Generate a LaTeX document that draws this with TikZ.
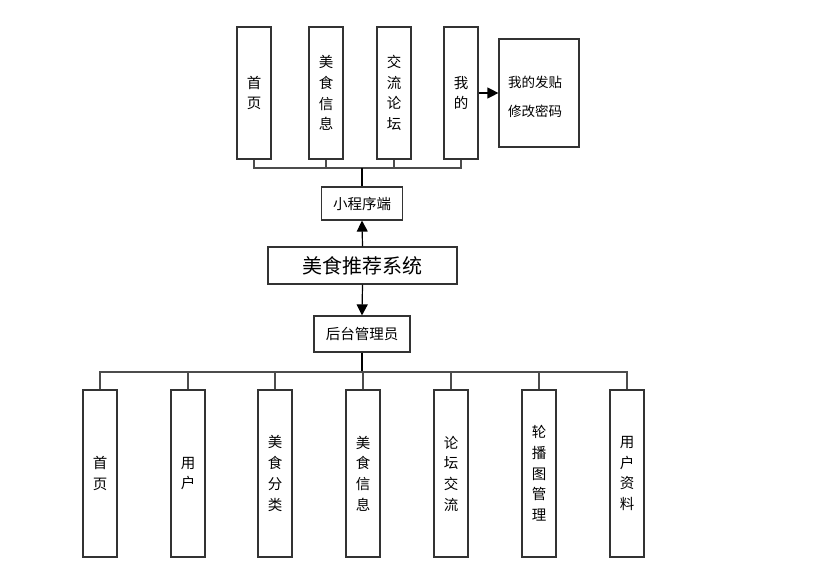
\documentclass[tikz,border=0pt]{standalone}
\usepackage{fontspec}
\setmainfont{Noto Sans CJK SC}
\usetikzlibrary{arrows.meta}
\begin{document}
\begin{tikzpicture}[x=1pt,y=-1pt,
  box/.style={draw=black!80, line width=1.2pt, fill=white, inner sep=0pt, align=center, font=\fontsize{14.5}{20.7}\selectfont},
  vbox/.style={box, minimum width=34pt},
  link/.style={draw=black!70, line width=1.2pt},
  arr/.style={draw=black, line width=1.2pt, -{Triangle[length=11pt,width=11pt]}}]
\useasboundingbox (0,0) rectangle (822,573);
% top branch
\node[vbox, minimum height=132pt] (t1) at (254,93) {首\\页};
\node[vbox, minimum height=132pt] (t2) at (326,93) {美\\食\\信\\息};
\node[vbox, minimum height=132pt] (t3) at (394,93) {交\\流\\论\\坛};
\node[vbox, minimum height=132pt] (t4) at (461,93) {我\\的};
\node[box, minimum width=80pt, minimum height=108pt,
  label={[inner sep=0pt, align=left, font=\fontsize{13.5}{29}\selectfont, xshift=-4pt, yshift=-4pt]center:我的发贴\\修改密码}] (t5) at (539,93) {};
\node[box, minimum width=81pt, minimum height=33pt] (app) at (362,203.5) {小程序端};
\node[box, minimum width=189pt, minimum height=37pt, font=\fontsize{20}{22}\selectfont] (sys) at (362.5,265.5) {美食推荐系统};
\node[box, minimum width=96pt, minimum height=36pt] (adm) at (362,334) {后台管理员};
\coordinate (tb) at (362,168);
\coordinate (bb) at (362,372);
\draw[link] (t1.south) -- (t1.south |- tb) -- (t4.south |- tb) -- (t4.south);
\draw[link] (t2.south) -- (t2.south |- tb);
\draw[link] (t3.south) -- (t3.south |- tb);
\draw[link, draw=black] (tb) -- (app.north);
\draw[arr] (t4.east) -- (t5.west);
\draw[arr] (sys.north) -- (app.south);
\draw[arr] (sys.south) -- (adm.north);
% bottom branch
\node[vbox, minimum height=167pt] (b1) at (100,473.5) {首\\页};
\node[vbox, minimum height=167pt] (b2) at (188,473.5) {用\\户};
\node[vbox, minimum height=167pt] (b3) at (275,473.5) {美\\食\\分\\类};
\node[vbox, minimum height=167pt] (b4) at (363,473.5) {美\\食\\信\\息};
\node[vbox, minimum height=167pt] (b5) at (451,473.5) {论\\坛\\交\\流};
\node[vbox, minimum height=167pt] (b6) at (539,473.5) {轮\\播\\图\\管\\理};
\node[vbox, minimum height=167pt] (b7) at (627,473.5) {用\\户\\资\\料};
\draw[link, draw=black] (adm.south) -- (bb);
\draw[link] (b1.north) -- (b1.north |- bb) -- (b7.north |- bb) -- (b7.north);
\foreach \n in {b2,b3,b4,b5,b6} \draw[link] (\n.north) -- (\n.north |- bb);
\end{tikzpicture}
\end{document}
